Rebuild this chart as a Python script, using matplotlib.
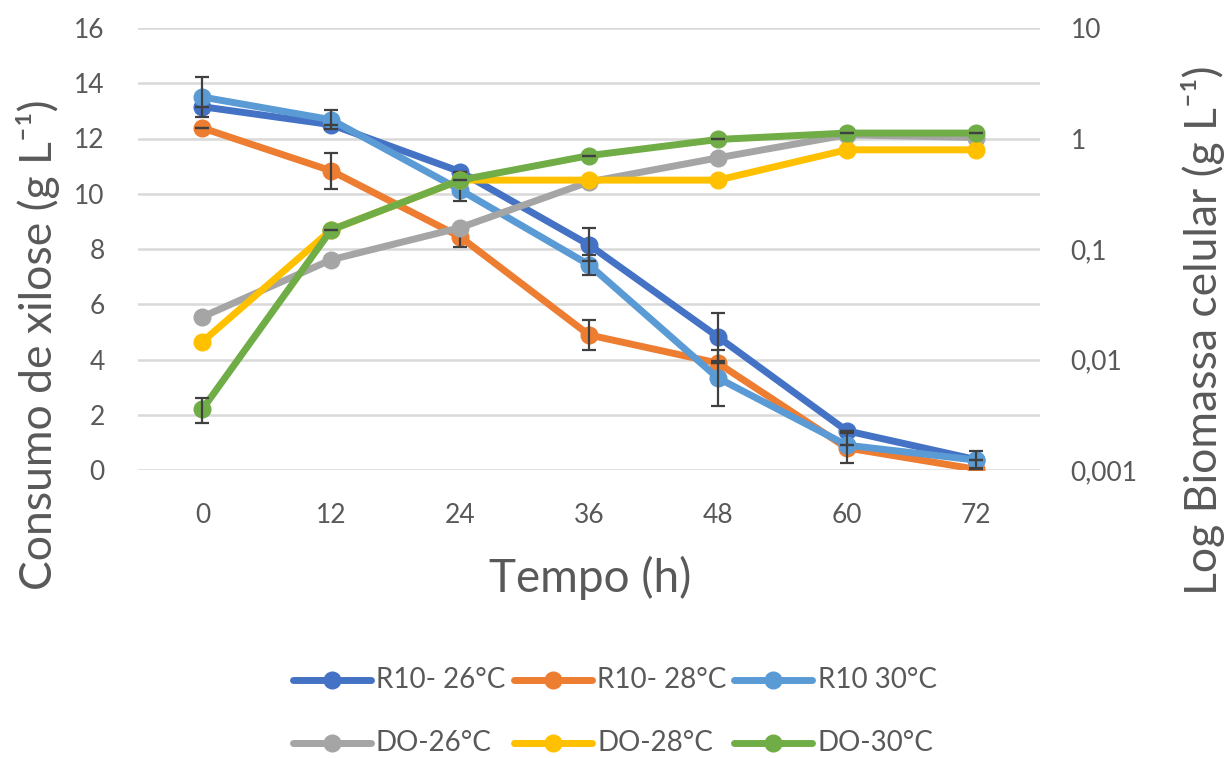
import matplotlib
matplotlib.use("Agg")
import matplotlib.pyplot as plt
from matplotlib.lines import Line2D
from matplotlib.ticker import FixedLocator, FixedFormatter, NullLocator

plt.rcParams["font.family"] = ["Lato", "DejaVu Sans"]

# ---- data -------------------------------------------------------------
tempo = ["0", "12", "24", "36", "48", "60", "72"]

# xylose consumption (g/L), primary axis
r10_26 = [13.15, 12.5, 10.8, 8.15, 4.82, 1.42, 0.38]
r10_28 = [12.38, 10.83, 8.44, 4.89, 3.87, 0.8, 0.03]
r10_30 = [13.5, 12.68, 10.14, 7.43, 3.33, 0.9, 0.36]
r10_26_err = [0, 0, 0, 0.6, 0.87, 0, 0.3]
r10_28_err = [0, 0.65, 0.36, 0.55, 0, 0.55, 0]
r10_30_err = [0.72, 0.35, 0.4, 0.36, 1.0, 0, 0]

# cell biomass (g/L), secondary log axis
do_26 = [0.0243, 0.080, 0.156, 0.405, 0.668, 1.08, 1.02]
do_28 = [0.0145, 0.149, 0.42, 0.42, 0.42, 0.79, 0.79]
do_30 = [0.00355, 0.149, 0.42, 0.70, 0.98, 1.12, 1.12]
do_30_err = [0.0009, 0, 0, 0, 0, 0, 0]

left_ticks = [0, 2, 4, 6, 8, 10, 12, 14, 16]
right_ticks = [0.001, 0.01, 0.1, 1, 10]
right_labels = ["0,001", "0,01", "0,1", "1", "10"]

primary = [("R10- 26°C", r10_26, r10_26_err, "#4472C4"),
           ("R10- 28°C", r10_28, r10_28_err, "#ED7D31"),
           ("R10 30°C", r10_30, r10_30_err, "#5B9BD5")]
secondary = [("DO-26°C", do_26, None, "#A5A5A5"),
             ("DO-28°C", do_28, None, "#FFC000"),
             ("DO-30°C", do_30, do_30_err, "#70AD47")]

# ---- style ------------------------------------------------------------
TXT = "#595959"
GRID = "#D9D9D9"
ERR = "#404040"
LW = 5
MS = 12

W, H = 1232, 758
fig = plt.figure(figsize=(W / 100, H / 100), dpi=100)
ax = fig.add_axes([138 / W, 1 - 470 / H, (1040 - 138) / W, (470 - 28) / H])
ax2 = ax.twinx()

x = list(range(len(tempo)))

for name, vals, err, col in primary:
    ax.plot(x, vals, color=col, lw=LW, marker="o", ms=MS, mfc=col, mec=col,
            solid_capstyle="round", zorder=3)
for name, vals, err, col in primary:
    ax.errorbar(x, vals, yerr=err, fmt="none", ecolor=ERR, elinewidth=1.6,
                capsize=5, capthick=1.6, zorder=4)

for name, vals, err, col in secondary:
    ax2.plot(x, vals, color=col, lw=LW, marker="o", ms=MS, mfc=col, mec=col,
             solid_capstyle="round", zorder=3)
    if err is not None:
        ax2.errorbar(x, vals, yerr=err, fmt="none", ecolor=ERR, elinewidth=1.6,
                     capsize=5, capthick=1.6, zorder=4)

# primary axis
ax.set_xlim(-0.5, len(tempo) - 0.5)
ax.set_ylim(0, 16)
ax.set_xticks(x)
ax.set_xticklabels(tempo)
ax.set_yticks(left_ticks)
ax.yaxis.grid(True, color=GRID, lw=1.8)
ax.set_axisbelow(True)
ax.tick_params(axis="both", length=0, labelsize=19, labelcolor=TXT)
ax.tick_params(axis="x", pad=24)
ax.tick_params(axis="y", pad=24)

# secondary log axis
ax2.set_yscale("log")
ax2.set_ylim(0.001, 10)
ax2.yaxis.set_major_locator(FixedLocator(right_ticks))
ax2.yaxis.set_major_formatter(FixedFormatter(right_labels))
ax2.yaxis.set_minor_locator(NullLocator())
ax2.tick_params(axis="y", length=0, labelsize=19, labelcolor=TXT, pad=22)

for a in (ax, ax2):
    for s in a.spines.values():
        s.set_visible(False)

# axis titles
fig.text(38 / W, 1 - 345 / H, "Consumo de xilose (g L⁻¹)",
         rotation=90, ha="center", va="center", fontsize=32, color=TXT)
fig.text(1203 / W, 1 - 330 / H, "Log Biomassa celular (g L⁻¹)",
         rotation=90, ha="center", va="center", fontsize=32, color=TXT)
fig.text(590 / W, 1 - 578 / H, "Tempo (h)", ha="center", va="center",
         fontsize=33, color=TXT)

# legend, two rows of three entries
line_x0 = [293, 514, 734]
text_x0 = [376, 597, 818]
row_y = [680, 743]
for r, group in enumerate([primary, secondary]):
    for c, (name, vals, err, col) in enumerate(group):
        y = 1 - row_y[r] / H
        x0 = line_x0[c] / W
        x1 = (line_x0[c] + 78) / W
        fig.add_artist(Line2D([x0, x1], [y, y], transform=fig.transFigure,
                              color=col, lw=LW, solid_capstyle="round"))
        fig.add_artist(Line2D([(x0 + x1) / 2], [y], transform=fig.transFigure,
                              color=col, marker="o", ms=MS, mfc=col, mec=col))
        fig.text(text_x0[c] / W, y, name, ha="left", va="center",
                 fontsize=20, color=TXT)

fig.savefig("out.png", dpi=100)
